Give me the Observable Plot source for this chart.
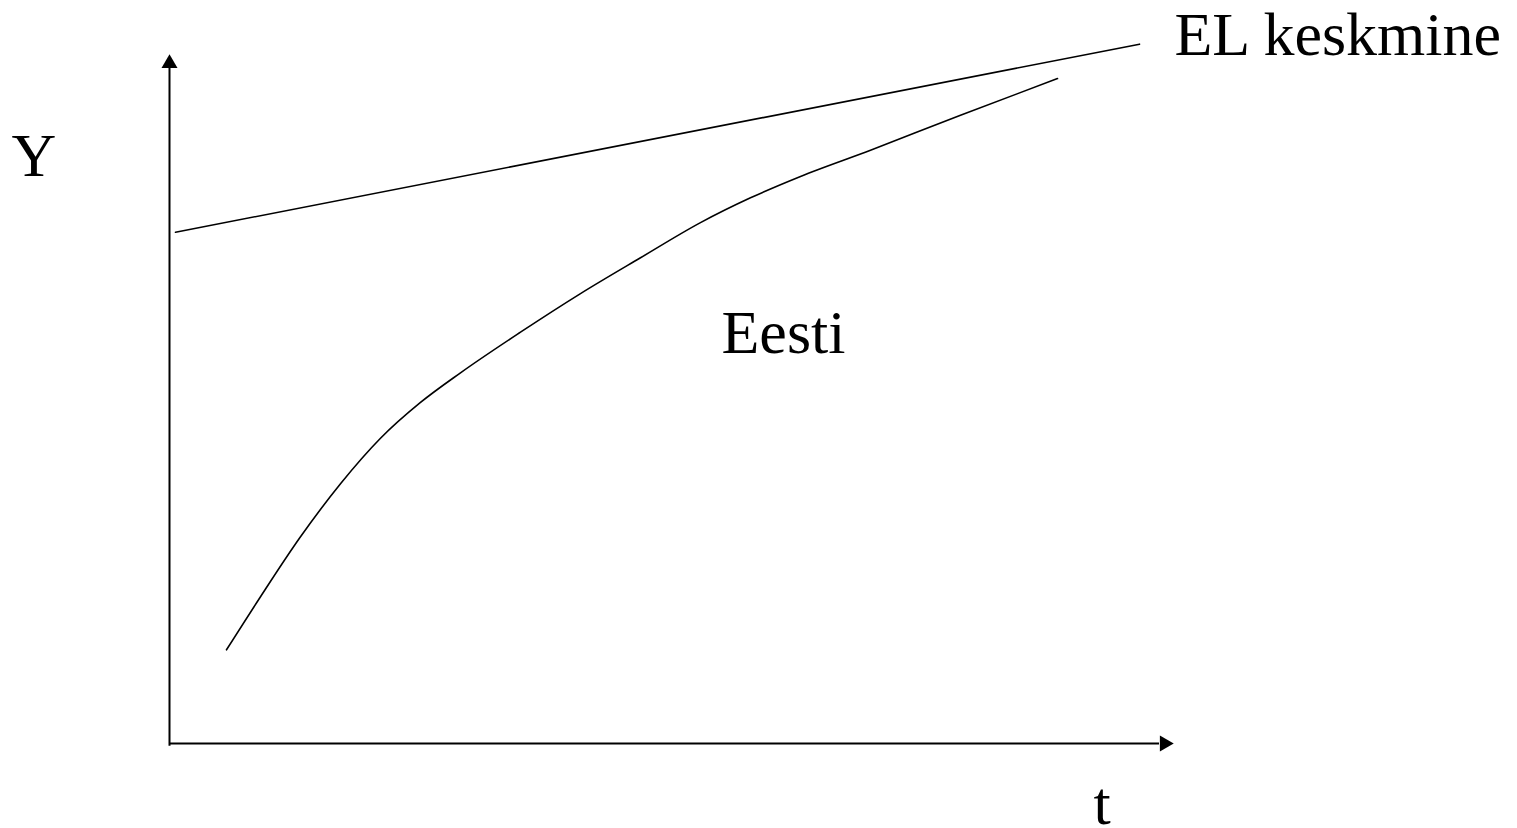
<!DOCTYPE html>
<html>
<head>
<meta charset="utf-8">
<script src="https://cdn.jsdelivr.net/npm/d3@7"></script>
<script src="https://cdn.jsdelivr.net/npm/@observablehq/plot@0.6"></script>
<style>
  html, body { margin: 0; padding: 0; background: #fff; overflow: hidden; }
  #chart svg { display: block; }
  #chart svg, #chart svg g, #chart svg text { font-family: "Liberation Serif", "Times New Roman", Times, "DejaVu Serif", serif !important; }
</style>
</head>
<body>
<div id="chart"></div>
<script>
// EL keskmine (EU average): straight line
const elT = [0.06, 9.70];
const elY = [7.42, 10.15];

// Eesti (Estonia): convergence curve
const eestiT = [0.57, 0.91, 1.31, 1.71, 2.11, 2.51, 2.91, 3.51, 4.11, 4.71, 5.31, 5.81, 6.31, 7.01, 7.91, 8.88];
const eestiY = [1.36, 2.13, 3.00, 3.77, 4.43, 4.95, 5.38, 5.97, 6.53, 7.05, 7.56, 7.92, 8.23, 8.61, 9.12, 9.65];

// Labels
const labelText = ["Y", "EL keskmine", "Eesti", "t"];
const labelT = [-1.58, 10.05, 5.52, 9.24];
const labelY = [8.24, 9.99, 5.67, -1.17];

const el = elT.map((t, i) => ({t, y: elY[i]}));
const eesti = eestiT.map((t, i) => ({t, y: eestiY[i]}));
const labels = labelText.map((text, i) => ({text, t: labelT[i], y: labelY[i]}));

const chart = Plot.plot({
  width: 1517,
  height: 828,
  marginLeft: 169,
  marginRight: 348,
  marginTop: 54,
  marginBottom: 85,
  x: {domain: [0, 10], axis: null},
  y: {domain: [0, 10], axis: null},
  style: {background: "#fff"},
  marks: [
    // axes
    Plot.ruleX([0], {y1: -0.04, y2: 9.8, stroke: "black", strokeWidth: 2}),
    Plot.ruleY([0], {x1: 0, x2: 9.9, stroke: "black", strokeWidth: 2}),
    Plot.dot([{t: 0, y: 9.87}], {x: "t", y: "y", symbol: "triangle", r: 5.94, fill: "black", stroke: null}),
    Plot.dot([{t: 9.95, y: 0}], {x: "t", y: "y", symbol: "triangle", r: 5.94, fill: "black", stroke: null, rotate: 90}),
    // series
    Plot.line(el, {x: "t", y: "y", stroke: "black", strokeWidth: 1.6}),
    Plot.line(eesti, {x: "t", y: "y", stroke: "black", strokeWidth: 1.6, curve: "monotone-x"}),
    // labels
    Plot.text(labels, {x: "t", y: "y", text: "text", textAnchor: "start", lineAnchor: "bottom",
      fontSize: 62, fill: "black", fontFamily: "'Liberation Serif', serif"})
  ]
});
document.getElementById("chart").appendChild(chart);
</script>
</body>
</html>
